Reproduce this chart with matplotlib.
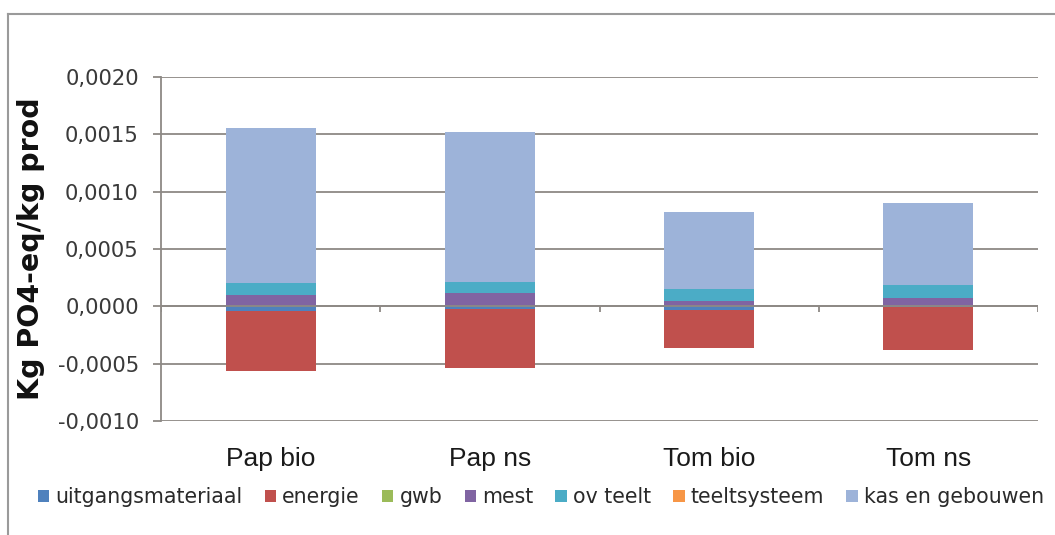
import matplotlib
matplotlib.use("Agg")
import matplotlib.pyplot as plt
from matplotlib.patches import Patch
from matplotlib.lines import Line2D
import numpy as np

categories = ["Pap bio", "Pap ns", "Tom bio", "Tom ns"]
series_names = ["uitgangsmateriaal", "energie", "gwb", "mest",
                "ov teelt", "teeltsysteem", "kas en gebouwen"]
series_colors = ["#4F81BD", "#C0504D", "#9BBB59", "#8064A2",
                 "#4BACC6", "#F79646", "#9DB3D9"]

uitgangsmateriaal = [-0.000045, -0.000022, -0.000030, -0.000010]
energie = [-0.000520, -0.000520, -0.000330, -0.000370]
gwb = [0.0, 0.0, 0.0, 0.0]
mest = [0.000100, 0.000120, 0.000050, 0.000070]
ov_teelt = [0.000105, 0.000096, 0.000100, 0.000116]
teeltsysteem = [0.0, 0.0, 0.0, 0.0]
kas_en_gebouwen = [0.001350, 0.001300, 0.000674, 0.000716]

series_values = [uitgangsmateriaal, energie, gwb, mest,
                 ov_teelt, teeltsysteem, kas_en_gebouwen]

y_ticks = [-0.0010, -0.0005, 0.0, 0.0005, 0.0010, 0.0015, 0.0020]
y_tick_labels = ["-0,0010", "-0,0005", "0,0000", "0,0005",
                 "0,0010", "0,0015", "0,0020"]
y_label = "Kg PO4-eq/kg prod"

grid_color = "#8E8985"
text_color = "#1A1A1A"

fig = plt.figure(figsize=(10.55, 5.35), dpi=100)
fig.patch.set_facecolor("white")

ax = fig.add_axes([161 / 1055, 1 - 421 / 535, 877 / 1055, 344 / 535])
ax.set_facecolor("white")

x = np.arange(len(categories))
bar_width = 0.41
pos_bottom = np.zeros(len(categories))
neg_bottom = np.zeros(len(categories))
for vals, color in zip(series_values, series_colors):
    vals = np.asarray(vals, dtype=float)
    bottoms = np.where(vals >= 0, pos_bottom, neg_bottom)
    ax.bar(x, vals, width=bar_width, bottom=bottoms, color=color,
           edgecolor="none", zorder=3)
    pos_bottom = pos_bottom + np.clip(vals, 0, None)
    neg_bottom = neg_bottom + np.clip(vals, None, 0)

ax.set_xlim(-0.5, len(categories) - 0.5)
ax.set_ylim(-0.0010, 0.0020)

# horizontal gridlines
for yv in y_ticks:
    ax.axhline(yv, color=grid_color, lw=1.3, zorder=1)

# category axis drawn at zero with tick marks between categories
ax.axhline(0, color=grid_color, lw=1.3, zorder=4)
tick_len = 0.00005
for b in np.arange(-0.5, len(categories), 1.0):
    ax.plot([b, b], [0, -tick_len], color=grid_color, lw=1.3, zorder=4,
            solid_capstyle="butt")

for side in ["top", "right", "bottom"]:
    ax.spines[side].set_visible(False)
ax.spines["left"].set_color(grid_color)
ax.spines["left"].set_linewidth(1.3)

ax.set_yticks(y_ticks)
ax.set_yticklabels(y_tick_labels, fontsize=15.2, color="#3A3A3A",
                   family="DejaVu Sans")
ax.tick_params(axis="y", length=6, width=1.3, color=grid_color, pad=10)

ax.set_xticks(x)
ax.set_xticklabels(categories, fontsize=19, family="Liberation Sans",
                   color=text_color)
ax.tick_params(axis="x", length=0, pad=19)

ax.set_ylabel(y_label, fontsize=20.5, fontweight="bold", family="DejaVu Sans",
              color="#111111", labelpad=9)

# legend
handles = [Patch(facecolor=c, edgecolor="none") for c in series_colors]
fig.legend(handles, series_names, loc="center", ncol=len(series_names),
           bbox_to_anchor=(541 / 1055, 1 - 497 / 535), frameon=False,
           prop={"family": "DejaVu Sans", "size": 14.8},
           handlelength=0.55, handleheight=0.55, handletextpad=0.3,
           columnspacing=1.08, labelcolor="#2A2A2A")

# chart frame (left and top edges)
fig.add_artist(Line2D([8 / 1055, 8 / 1055], [0, 1 - 14 / 535],
                      transform=fig.transFigure, color="#9A9A9A", lw=1.5))
fig.add_artist(Line2D([8 / 1055, 1], [1 - 14 / 535, 1 - 14 / 535],
                      transform=fig.transFigure, color="#9A9A9A", lw=1.5))

fig.savefig("out.png", dpi=100, facecolor="white")
